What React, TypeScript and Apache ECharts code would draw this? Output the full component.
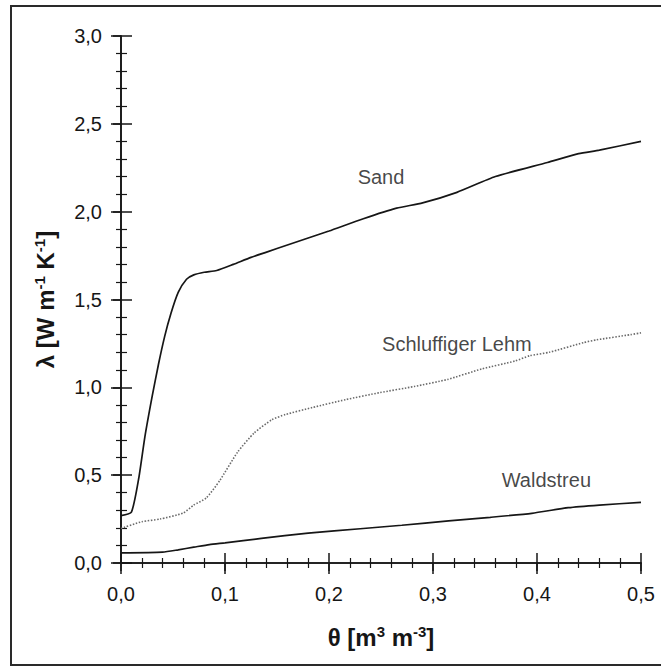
import React, { useEffect, useRef } from "react";
import * as echarts from "echarts";

const sandTheta = [0, 0.01, 0.017, 0.023, 0.03, 0.036, 0.042, 0.048, 0.055, 0.063, 0.07, 0.08, 0.092, 0.108, 0.125, 0.14, 0.16, 0.18, 0.2, 0.233, 0.265, 0.29, 0.323, 0.36, 0.41, 0.44, 0.46, 0.5];
const sandLambda = [0.27, 0.29, 0.48, 0.72, 0.95, 1.13, 1.29, 1.42, 1.54, 1.615, 1.64, 1.655, 1.665, 1.7, 1.74, 1.77, 1.81, 1.85, 1.89, 1.96, 2.02, 2.05, 2.11, 2.2, 2.28, 2.33, 2.35, 2.4];

const lehmTheta = [0, 0.02, 0.0375, 0.06, 0.07, 0.082, 0.095, 0.112, 0.128, 0.145, 0.158, 0.184, 0.216, 0.249, 0.282, 0.314, 0.347, 0.379, 0.393, 0.412, 0.445, 0.457, 0.49, 0.5];
const lehmLambda = [0.197, 0.235, 0.25, 0.285, 0.33, 0.37, 0.47, 0.63, 0.74, 0.815, 0.845, 0.885, 0.93, 0.97, 1.005, 1.045, 1.105, 1.15, 1.18, 1.2, 1.255, 1.27, 1.3, 1.31];

const waldTheta = [0, 0.04, 0.055, 0.07, 0.085, 0.1, 0.135, 0.18, 0.23, 0.27, 0.315, 0.355, 0.395, 0.43, 0.46, 0.5];
const waldLambda = [0.058, 0.062, 0.075, 0.09, 0.105, 0.115, 0.14, 0.17, 0.195, 0.215, 0.24, 0.26, 0.283, 0.315, 0.33, 0.345];

const labelNames = ["Sand", "Schluffiger Lehm", "Waldstreu"];
const labelTheta = [0.25, 0.323, 0.409];
const labelLambda = [2.197, 1.246, 0.472];

const X_MIN = 0, X_MAX = 0.5, X_INT = 0.1;
const Y_MIN = 0, Y_MAX = 3, Y_INT = 0.5;

const FONT = "'Liberation Sans', Arial, sans-serif";
const INK = "#161616";

const comma = (v: number) => v.toFixed(1).replace(".", ",");
const pairs = (xs: number[], ys: number[]) => xs.map((x, i) => [x, ys[i]]);

export default function App() {
  const ref = useRef<HTMLDivElement>(null);
  useEffect(() => {
    document.body.style.margin = "0";
    const chart = echarts.init(ref.current!, null, { renderer: "svg" });
    const gridPos = { left: 121, right: 20, top: 36, bottom: 103, containLabel: false, outerBoundsMode: "none" };
    const baseX = { type: "value", min: X_MIN, max: X_MAX, interval: X_INT, splitLine: { show: false } };
    const baseY = { type: "value", min: Y_MIN, max: Y_MAX, interval: Y_INT, splitLine: { show: false } };
    const lineSty = { show: true, lineStyle: { color: INK, width: 1.6 } };
    const noLine = { show: false };
    const tickSty = (len: number, inside: boolean) => ({ show: true, inside, length: len, lineStyle: { color: INK, width: 1.5 } });
    const minor = (len: number) => ({ show: true, splitNumber: 5, length: len, lineStyle: { color: INK, width: 1.2 } });
    const labelSty = { show: true, color: INK, fontFamily: FONT, fontSize: 20, formatter: comma };
    const richTitle = {
      fontFamily: FONT,
      rich: {
        b: { fontFamily: FONT, fontSize: 24, fontWeight: "bold", color: INK, lineHeight: 26 },
        s: { fontFamily: FONT, fontSize: 15, fontWeight: "bold", color: INK, lineHeight: 15, verticalAlign: "top" },
      },
    };

    chart.setOption({
      animation: false,
      backgroundColor: "#ffffff",
      grid: [gridPos, gridPos],
      xAxis: [
        {
          ...baseX, gridIndex: 0, position: "bottom",
          axisLine: lineSty, axisTick: tickSty(11, false), axisLabel: { ...labelSty, margin: 21 },
          name: "{b|θ [m}{s|3}{b| m}{s|-3}{b|]}", nameLocation: "middle", nameGap: 61, nameTextStyle: richTitle,
        },
        {
          ...baseX, gridIndex: 0, position: "top",
          axisLine: lineSty, axisTick: tickSty(8, true), minorTick: minor(5), axisLabel: { show: false },
        },
        {
          ...baseX, gridIndex: 1, position: "bottom",
          axisLine: noLine, axisTick: tickSty(10, true), minorTick: minor(5), axisLabel: { show: false },
        },
      ],
      yAxis: [
        {
          ...baseY, gridIndex: 0, position: "left",
          axisLine: lineSty, axisTick: tickSty(10, false), axisLabel: { ...labelSty, margin: 19 },
          name: "{b|λ [W m}{s|-1}{b| K}{s|-1}{b|]}", nameLocation: "middle", nameGap: 63, nameTextStyle: richTitle,
        },
        {
          ...baseY, gridIndex: 0, position: "right",
          axisLine: lineSty, axisTick: tickSty(8, true), minorTick: minor(5), axisLabel: { show: false },
        },
        {
          ...baseY, gridIndex: 1, position: "left",
          axisLine: noLine, axisTick: tickSty(11, true), minorTick: minor(6), axisLabel: { show: false },
        },
      ],
      graphic: [
        {
          type: "rect", shape: { x: 11, y: 6, width: 660, height: 659 },
          style: { fill: "none", stroke: "#2a2a2a", lineWidth: 2 }, silent: true,
        },
      ],
      series: [
        {
          name: "Sand", type: "line", xAxisIndex: 0, yAxisIndex: 0, data: pairs(sandTheta, sandLambda),
          showSymbol: false, symbol: "none", smooth: 0.2, lineStyle: { color: INK, width: 1.7 },
        },
        {
          name: "Schluffiger Lehm", type: "line", xAxisIndex: 0, yAxisIndex: 0, data: pairs(lehmTheta, lehmLambda),
          showSymbol: false, symbol: "none", smooth: 0.2, lineStyle: { color: "#6a6a6a", width: 1.6, type: [1.5, 1.6] },
        },
        {
          name: "Waldstreu", type: "line", xAxisIndex: 0, yAxisIndex: 0, data: pairs(waldTheta, waldLambda),
          showSymbol: false, symbol: "none", smooth: 0.2, lineStyle: { color: INK, width: 1.7 },
        },
        {
          name: "labels", type: "scatter", xAxisIndex: 0, yAxisIndex: 0, symbolSize: 0, silent: true,
          data: labelNames.map((n, i) => ({ name: n, value: [labelTheta[i], labelLambda[i]] })),
          label: {
            show: true, position: "inside", formatter: (p: any) => p.name,
            color: INK, fontFamily: FONT, fontSize: 20,
          },
        },
      ],
    });
    return () => chart.dispose();
  }, []);
  return <div ref={ref} style={{ width: 661, height: 666 }} />;
}
